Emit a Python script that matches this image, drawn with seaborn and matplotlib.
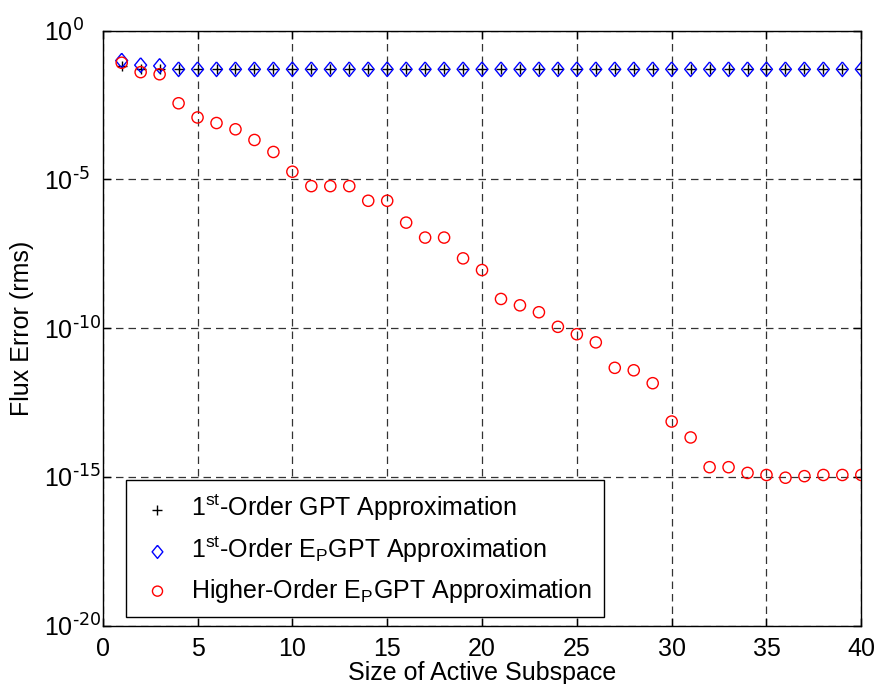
import numpy as np
import pandas as pd
import matplotlib
matplotlib.use("Agg")
import matplotlib.pyplot as plt
import seaborn as sns

subspace = list(range(1, 41))
gpt_first = [6.5e-2] + [5.0e-2] * 39
epgpt_first = [9.8e-2, 6.9e-2, 6.5e-2] + [5.0e-2] * 37
epgpt_higher = [8.3e-2, 4.0e-2, 3.4e-2, 3.6e-3, 1.2e-3, 7.8e-4, 4.8e-4, 2.1e-4, 8.3e-5, 1.8e-5,
                5.9e-6, 5.9e-6, 5.9e-6, 1.9e-6, 1.9e-6, 3.5e-7, 1.1e-7, 1.1e-7, 2.2e-8, 8.9e-9,
                9.5e-10, 5.8e-10, 3.4e-10, 1.1e-10, 6.2e-11, 3.3e-11, 4.6e-12, 3.8e-12, 1.4e-12, 7.2e-14,
                2.1e-14, 2.1e-15, 2.1e-15, 1.35e-15, 1.15e-15, 9.3e-16, 1.05e-15, 1.15e-15, 1.15e-15, 1.15e-15]
labels = ["1$^{st}$-Order GPT Approximation",
          "1$^{st}$-Order E$_P$GPT Approximation",
          "Higher-Order E$_P$GPT Approximation"]
xticks = [0, 5, 10, 15, 20, 25, 30, 35, 40]
yticks = [1e-20, 1e-15, 1e-10, 1e-5, 1e0]
ytick_labels = ["10$^{\\text{-20}}$", "10$^{\\text{-15}}$", "10$^{\\text{-10}}$",
                "10$^{\\text{-5}}$", "10$^{\\text{0}}$"]

sns.set_style("white")
plt.rcParams['font.family'] = ['Liberation Sans', 'DejaVu Sans']
plt.rcParams['mathtext.default'] = 'regular'
for k in ['text.color', 'axes.labelcolor', 'xtick.color', 'ytick.color', 'axes.edgecolor']:
    plt.rcParams[k] = 'black'

FS = 18

fig = plt.figure(figsize=(8.78, 6.84), dpi=100)
ax = fig.add_axes([0.117, 0.0855, 0.864, 0.8698])

df = pd.DataFrame({"x": subspace, "g1": gpt_first, "e1": epgpt_first, "eh": epgpt_higher})

diamond = [(0, 1), (0.82, 0), (0, -1), (-0.82, 0), (0, 1)]

sns.scatterplot(data=df, x="x", y="g1", marker="+", s=55, color="black", linewidth=1,
                ax=ax, label=labels[0], zorder=3)
sns.scatterplot(data=df, x="x", y="e1", marker=diamond, s=110, facecolor="none", edgecolor="blue",
                linewidth=1, ax=ax, label=labels[1], zorder=3)
sns.scatterplot(data=df, x="x", y="eh", marker="o", s=65, facecolor="none", edgecolor="red",
                linewidth=1, ax=ax, label=labels[2], zorder=4)

ax.set_yscale("log")
ax.set_xlim(0, 40)
ax.set_ylim(1e-20, 1e0)
ax.set_xticks(xticks)
ax.set_xticklabels([str(t) for t in xticks])
ax.set_yticks(yticks)
ax.set_yticklabels(ytick_labels)
ax.yaxis.set_minor_locator(matplotlib.ticker.NullLocator())
ax.tick_params(direction="in", length=6, width=1, labelsize=FS, top=True, right=True,
               bottom=True, left=True, labeltop=False, labelright=False)
ax.tick_params(axis='x', pad=8)
ax.tick_params(axis='y', pad=42)
for lab in ax.get_yticklabels():
    lab.set_horizontalalignment('left')
ax.grid(True, which="major", color="black", linestyle=(0, (6, 4)), linewidth=0.9, alpha=0.8)
for sp in ax.spines.values():
    sp.set_color("black")
    sp.set_linewidth(1)
ax.set_xlabel("Size of Active Subspace", fontsize=FS)
ax.set_ylabel("Flux Error (rms)", fontsize=FS)
ax.xaxis.set_label_coords(0.5, -0.06)
ax.yaxis.set_label_coords(-0.09, 0.5)

leg = ax.legend(loc="lower left", bbox_to_anchor=(0.031, 0.014), fontsize=FS, frameon=True,
                fancybox=False, edgecolor="black", framealpha=1, borderpad=0.5,
                handlelength=1.5, handletextpad=0.6, labelspacing=0.45, markerscale=0.9,
                borderaxespad=0)
leg.get_frame().set_linewidth(1)

fig.savefig("out.png", dpi=100)
